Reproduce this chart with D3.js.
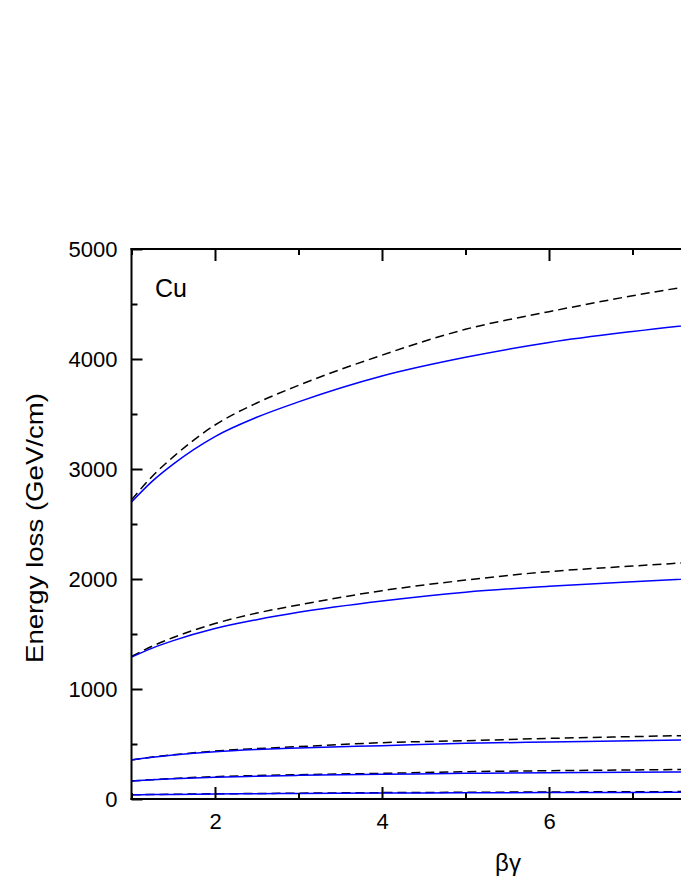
<!DOCTYPE html>
<html>
<head>
<meta charset="utf-8">
<script src="https://cdn.jsdelivr.net/npm/d3@7"></script>
<style>
  html, body { margin: 0; padding: 0; background: #fff; }
  svg { display: block; }
  text { font-family: "Liberation Sans", Arial, sans-serif; fill: #000; }
</style>
</head>
<body>
<div id="chart"></div>
<script>
// ---- Data ----
const betaGamma = [1, 1.25, 1.5, 2, 2.5, 3, 4, 5, 6, 7, 8];

// solid blue curves (one per group)
const solid1 = [2700, 2890, 3045, 3295, 3470, 3610, 3845, 4015, 4150, 4250, 4335];
const solid2 = [1290, 1372, 1440, 1550, 1630, 1697, 1800, 1880, 1933, 1976, 2015];
const solid3 = [355, 379, 399, 430, 450, 464, 485, 506, 518, 530, 540];
const solid4 = [163, 174, 183, 197, 207, 215, 224, 233, 239, 243, 247];
const solid5 = [38, 40, 42, 45, 48, 50, 54, 56, 58, 60, 61];

// dashed black curves
const dashed1 = [2720, 2935, 3110, 3400, 3600, 3760, 4035, 4270, 4430, 4575, 4700];
const dashed2 = [1295, 1390, 1468, 1595, 1690, 1764, 1894, 1990, 2067, 2118, 2165];
const dashed3 = [355, 381, 402, 436, 458, 476, 512, 530, 551, 567, 582];
const dashed4 = [163, 176, 187, 203, 213, 221, 233, 248, 257, 264, 272];
const dashed5 = [38, 41, 43, 47, 50, 53, 58, 61, 64, 66, 68];

const solidSeries = [solid1, solid2, solid3, solid4, solid5];
const dashedSeries = [dashed1, dashed2, dashed3, dashed4, dashed5];

const xTicksLabeled = [2, 4, 6];
const xTicksMajor = [2, 4, 6, 8];
const xTicksMinor = [1, 3, 5, 7];
const yTicksMajor = [0, 1000, 2000, 3000, 4000, 5000];
const yTicksMinor = [500, 1500, 2500, 3500, 4500];

const labelText = "Cu";
const xTitle = "βγ";
const yTitle = "Energy loss (GeV/cm)";

// ---- Layout ----
const W = 681, H = 881;
const pLeft = 131.5, pTop = 249, pBottom = 799;
const pRight = pLeft + 7 * 83.5; // x = 8 (extends past the visible window)

const svg = d3.select("#chart").append("svg")
  .attr("width", W).attr("height", H);

const x = d3.scaleLinear().domain([1, 8]).range([pLeft, pRight]);
const y = d3.scaleLinear().domain([0, 5000]).range([pBottom, pTop]);

svg.append("clipPath").attr("id", "clip")
  .append("rect").attr("x", pLeft).attr("y", pTop)
  .attr("width", pRight - pLeft).attr("height", pBottom - pTop);

const line = d3.line()
  .x((d, i) => x(betaGamma[i]))
  .y(d => y(d))
  .curve(d3.curveMonotoneX);

const plot = svg.append("g").attr("clip-path", "url(#clip)");

dashedSeries.forEach(s => {
  plot.append("path").datum(s)
    .attr("d", line)
    .attr("fill", "none")
    .attr("stroke", "#000")
    .attr("stroke-width", 1.5)
    .attr("stroke-dasharray", "9,5");
});
solidSeries.forEach(s => {
  plot.append("path").datum(s)
    .attr("d", line)
    .attr("fill", "none")
    .attr("stroke", "#0000ff")
    .attr("stroke-width", 1.5);
});

// ---- Axes ----
const axisColor = "#000";
const fmt = d3.format("d");

function styleTicks(g) {
  g.select(".domain").remove();
  g.selectAll(".tick line").attr("stroke", axisColor).attr("stroke-width", 2);
  g.selectAll(".tick text").attr("font-size", 22)
    .attr("font-family", "Liberation Sans, Arial, sans-serif").attr("fill", "#000");
}

// bottom axis
svg.append("g").attr("transform", `translate(0,${pBottom})`)
  .call(d3.axisBottom(x).tickValues(xTicksMajor).tickSize(-12).tickFormat(""))
  .call(styleTicks);
svg.append("g").attr("transform", `translate(0,${pBottom})`)
  .call(d3.axisBottom(x).tickValues(xTicksMinor).tickSize(-6).tickFormat(""))
  .call(styleTicks);
// bottom tick labels
const gxl = svg.append("g").attr("transform", `translate(0,${pBottom})`)
  .call(d3.axisBottom(x).tickValues(xTicksLabeled).tickSize(0).tickFormat(fmt))
  .call(styleTicks);
gxl.selectAll(".tick text").attr("y", 14).attr("dy", "0.72em");

// top axis
svg.append("g").attr("transform", `translate(0,${pTop})`)
  .call(d3.axisTop(x).tickValues(xTicksMajor).tickSize(-12).tickFormat(""))
  .call(styleTicks);
svg.append("g").attr("transform", `translate(0,${pTop})`)
  .call(d3.axisTop(x).tickValues(xTicksMinor).tickSize(-6).tickFormat(""))
  .call(styleTicks);

// left axis
svg.append("g").attr("transform", `translate(${pLeft},0)`)
  .call(d3.axisLeft(y).tickValues(yTicksMajor).tickSize(-11).tickPadding(14).tickFormat(fmt))
  .call(styleTicks);
svg.append("g").attr("transform", `translate(${pLeft},0)`)
  .call(d3.axisLeft(y).tickValues(yTicksMinor).tickSize(-6).tickFormat(""))
  .call(styleTicks);

// frame lines
svg.append("line").attr("x1", pLeft).attr("x2", pLeft).attr("y1", pTop - 1).attr("y2", pBottom + 1)
  .attr("stroke", axisColor).attr("stroke-width", 2);
svg.append("line").attr("x1", pLeft - 1).attr("x2", pRight).attr("y1", pBottom).attr("y2", pBottom)
  .attr("stroke", axisColor).attr("stroke-width", 2);
svg.append("line").attr("x1", pLeft - 1).attr("x2", pRight).attr("y1", pTop).attr("y2", pTop)
  .attr("stroke", axisColor).attr("stroke-width", 2);

// ---- Texts ----
svg.append("text").attr("x", 155).attr("y", 297)
  .attr("font-size", 25).text(labelText);

svg.append("text").attr("x", 508).attr("y", 871)
  .attr("text-anchor", "middle")
  .attr("font-family", "Liberation Serif, DejaVu Serif, serif")
  .attr("font-size", 24).text(xTitle);

svg.append("text")
  .attr("transform", `translate(43,528) rotate(-90)`)
  .attr("text-anchor", "middle")
  .attr("font-size", 24)
  .attr("textLength", 270)
  .attr("lengthAdjust", "spacingAndGlyphs")
  .text(yTitle);
</script>
</body>
</html>
